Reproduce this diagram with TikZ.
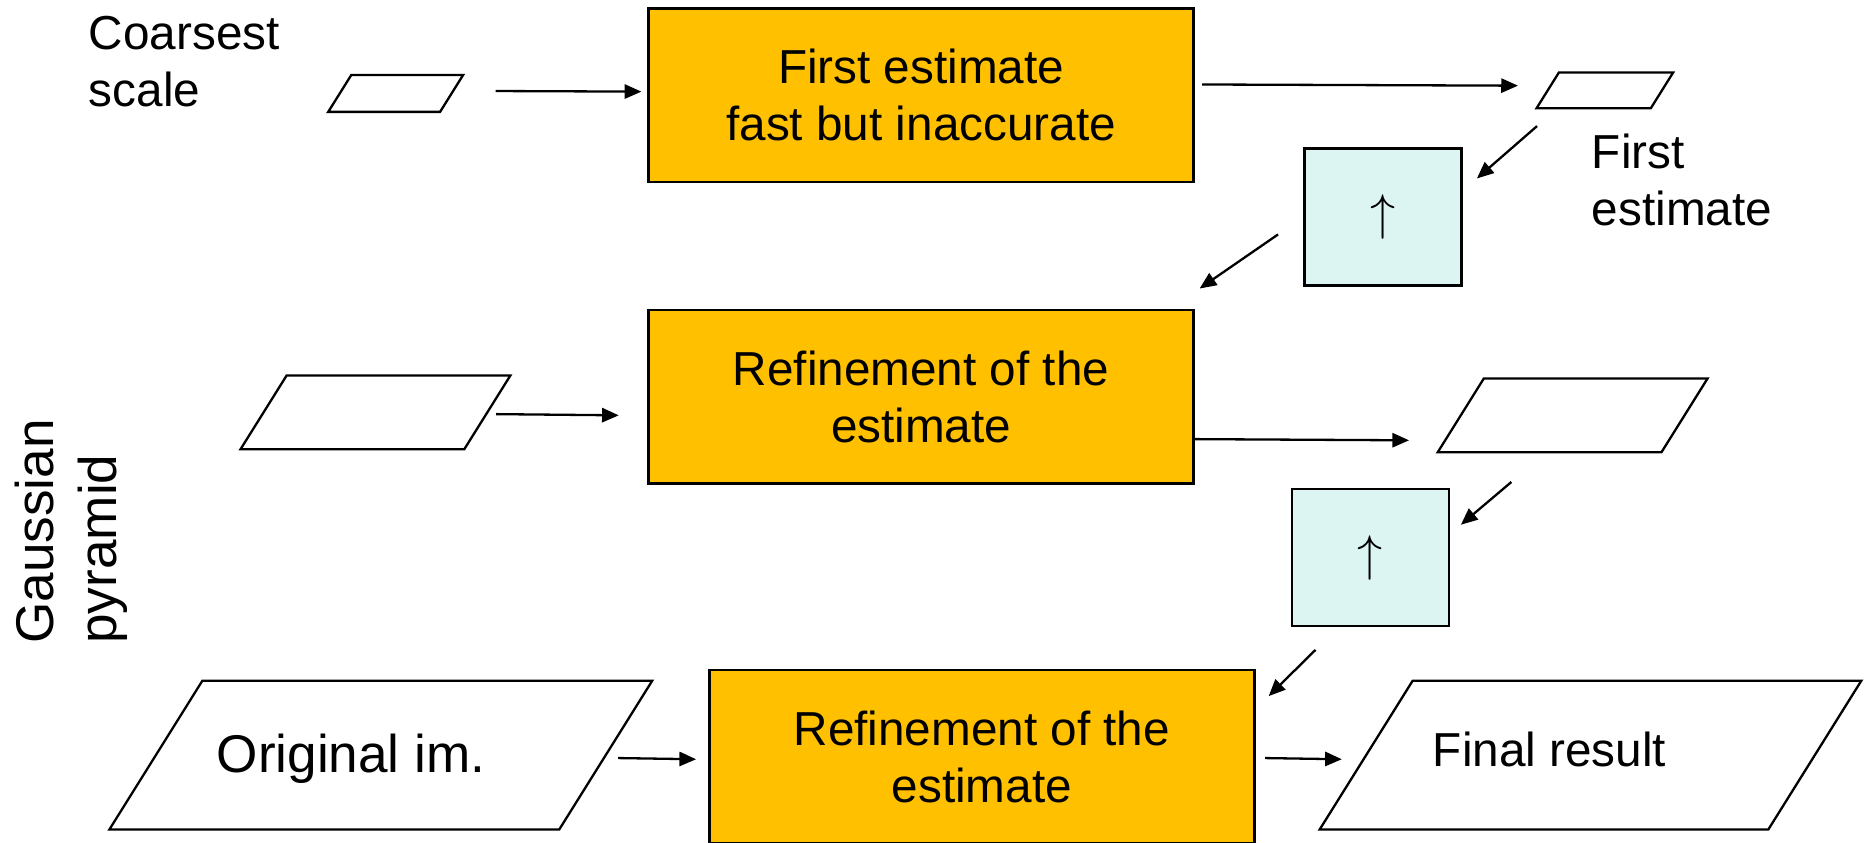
\documentclass[tikz,border=0pt]{standalone}
\usepackage{fontspec}
\setmainfont{Liberation Sans}
\usetikzlibrary{positioning, arrows.meta, shapes.geometric}
\definecolor{mGold}{HTML}{FFC000}
\definecolor{mIce}{HTML}{DCF5F2}
\newcommand{\lblfont}{\fontsize{11.4}{13.7}\selectfont}
\newcommand{\lblbigfont}{\fontsize{12.7}{15.2}\selectfont}
\newcommand{\upfont}{\fontsize{12.5}{15}\selectfont}

\begin{document}
\begin{tikzpicture}[
  stage/.style={draw, fill=mGold, line width=0.6pt, minimum width=4.58cm,
                minimum height=1.46cm, align=center, font=\lblfont},
  upbox/.style={draw, fill=mIce, line width=0.6pt, minimum width=1.32cm,
                minimum height=1.15cm, font=\upfont},
  plane/.style={draw, xslant=0.625, line width=0.55pt, inner sep=0pt},
  arr/.style={line width=0.55pt, -{Triangle[length=4pt, width=3.4pt]}},
]
  \useasboundingbox (0,0) rectangle (15.68,-7.08);

  % processing stages
  \node[stage] (first)   at (7.74,-0.80)  {First estimate\\fast but inaccurate};
  \node[stage] (refine1) at (7.74,-3.335) {Refinement of the\\estimate};
  \node[stage] (refine2) at (8.25,-6.36)  {Refinement of the\\estimate};

  % upsampling
  \node[upbox] (up1) at (11.62,-1.825) {\raisebox{-0.5mm}{$\uparrow$}};
  \node[upbox] (up2) at (11.515,-4.685) {\raisebox{-0.5mm}{$\uparrow$}};

  % pyramid levels and estimates
  \node[plane, minimum width=0.94cm, minimum height=0.31cm] (p1) at (3.325,-0.785) {};
  \node[plane, minimum width=0.96cm, minimum height=0.30cm] (p2) at (13.485,-0.76) {};
  \node[plane, minimum width=1.88cm, minimum height=0.62cm] (p3) at (3.155,-3.465) {};
  \node[plane, minimum width=1.88cm, minimum height=0.62cm] (p4) at (13.215,-3.49) {};
  \node[plane, minimum width=3.78cm, minimum height=1.25cm] (orig) at (3.20,-6.345) {};
  \node[plane, minimum width=3.77cm, minimum height=1.25cm] (final) at (13.365,-6.345) {};
  \node[font=\lblbigfont] (origtxt) at ([shift={(-0.25,-0.03)}]orig.center) {Original im.};
  \node[font=\lblfont] (finaltxt) at ([shift={(-0.345,0.05)}]final.center) {Final result};

  % side texts
  \node[font=\lblfont, align=left, anchor=north west, inner sep=0pt] (coarse)
    at (0.74,-0.13) {Coarsest\\scale};
  \node[font=\lblfont, align=left, anchor=north west, inner sep=0pt] (firstlbl)
    at (13.37,-1.12) {First\\estimate};
  \node[font=\lblbigfont, align=left, rotate=90, inner sep=0pt] (gauss)
    at (0.60,-4.465) {Gaussian\\pyramid};

  % connectors
  \draw[arr] ([shift={(0.36,0.02)}]p1.east) -- ([shift={(-0.05,0.03)}]first.west);
  \draw[arr] ([shift={(0.06,0.09)}]first.east) -- ([shift={(-0.24,0.04)}]p2.west);
  \draw[arr] ([shift={(0.02,-0.14)}]p2.south west) -- ([shift={(0.12,-0.26)}]up1.north east);
  \draw[arr] ([shift={(-0.21,-0.145)}]up1.west) -- ([shift={(0.04,0.17)}]refine1.north east);
  \draw[arr] ([shift={(0.065,-0.015)}]p3.east) -- ([shift={(-0.24,-0.155)}]refine1.west);
  \draw[arr] ([shift={(0,-0.355)}]refine1.east) -- ([shift={(-0.425,-0.21)}]p4.west);
  \draw[arr] ([shift={(-0.515,-0.56)}]p4.center) -- ([shift={(0.09,-0.31)}]up2.north east);
  \draw[arr] ([shift={(0.21,-0.19)}]up2.south west) -- ([shift={(0.11,-0.23)}]refine2.north east);
  \draw[arr] ([shift={(0.095,-0.025)}]orig.east) -- ([shift={(-0.10,-0.02)}]refine2.west);
  \draw[arr] ([shift={(0.08,-0.01)}]refine2.east) -- ([shift={(-0.195,-0.035)}]final.west);
\end{tikzpicture}
\end{document}
